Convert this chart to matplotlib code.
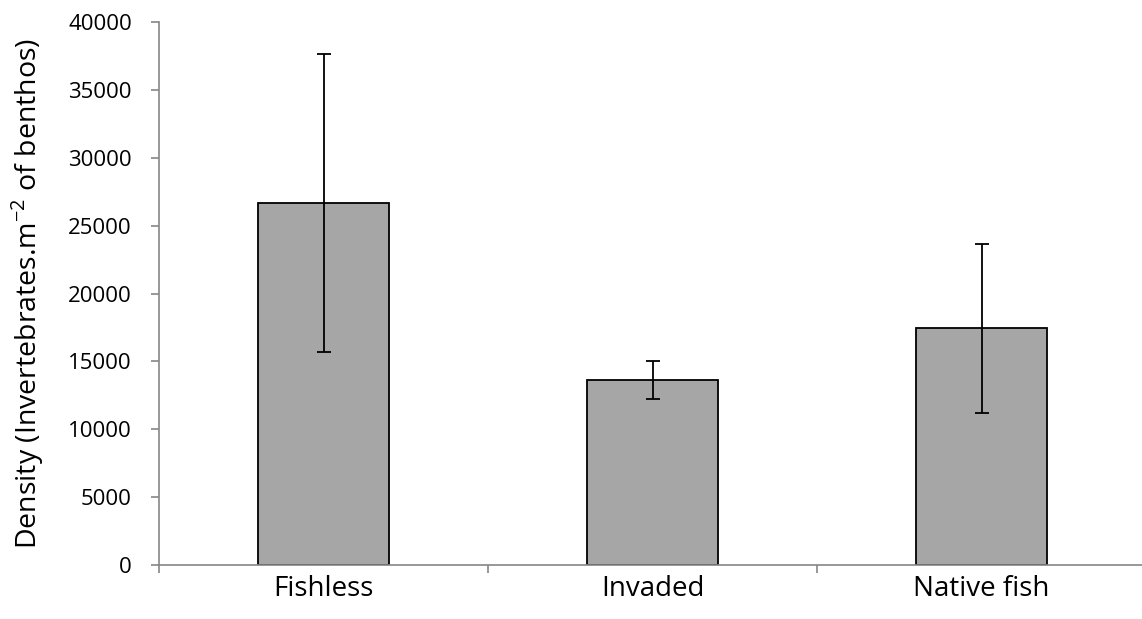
import matplotlib
matplotlib.use("Agg")
import matplotlib.pyplot as plt
import numpy as np

categories = ["Fishless", "Invaded", "Native fish"]
means = [26650, 13620, 17440]
errors = [10980, 1410, 6210]
yticks = [0, 5000, 10000, 15000, 20000, 25000, 30000, 35000, 40000]

plt.rcParams['font.family'] = ['Open Sans', 'DejaVu Sans']

fig = plt.figure(figsize=(11.42, 6.19), dpi=100)
ax = fig.add_axes([159/1142, 1 - 565/619, (1146 - 159)/1142, (565 - 22)/619])

x = np.arange(len(categories))
ax.bar(x, means, width=0.4, color="#a6a6a6", edgecolor="black", linewidth=1.3, zorder=2)
ax.errorbar(x, means, yerr=errors, fmt="none", ecolor="black", elinewidth=1.3,
            capsize=4.8, capthick=1.3, zorder=3)

ax.set_xlim(-0.5, 2.5)
ax.set_ylim(0, 40000)
ax.set_yticks(yticks)
ax.set_yticklabels([str(v) for v in yticks], fontsize=16)
ax.set_xticks(x)
ax.set_xticklabels(categories, fontsize=20)
ax.set_xticks([-0.5, 0.5, 1.5], minor=True)

for s in ["top", "right"]:
    ax.spines[s].set_visible(False)
for s in ["left", "bottom"]:
    ax.spines[s].set_color("#868686")
    ax.spines[s].set_linewidth(1.2)

ax.tick_params(axis="x", which="major", length=0, pad=7)
ax.tick_params(axis="x", which="minor", length=6, color="#868686", width=1.2)
ax.tick_params(axis="y", length=5.5, color="#868686", width=1.2, pad=14)

ax.set_ylabel(r"Density (Invertebrates.m$^{\mathregular{-2}}$ of benthos)", fontsize=20.5, labelpad=16)

fig.savefig("out.png", dpi=100)
